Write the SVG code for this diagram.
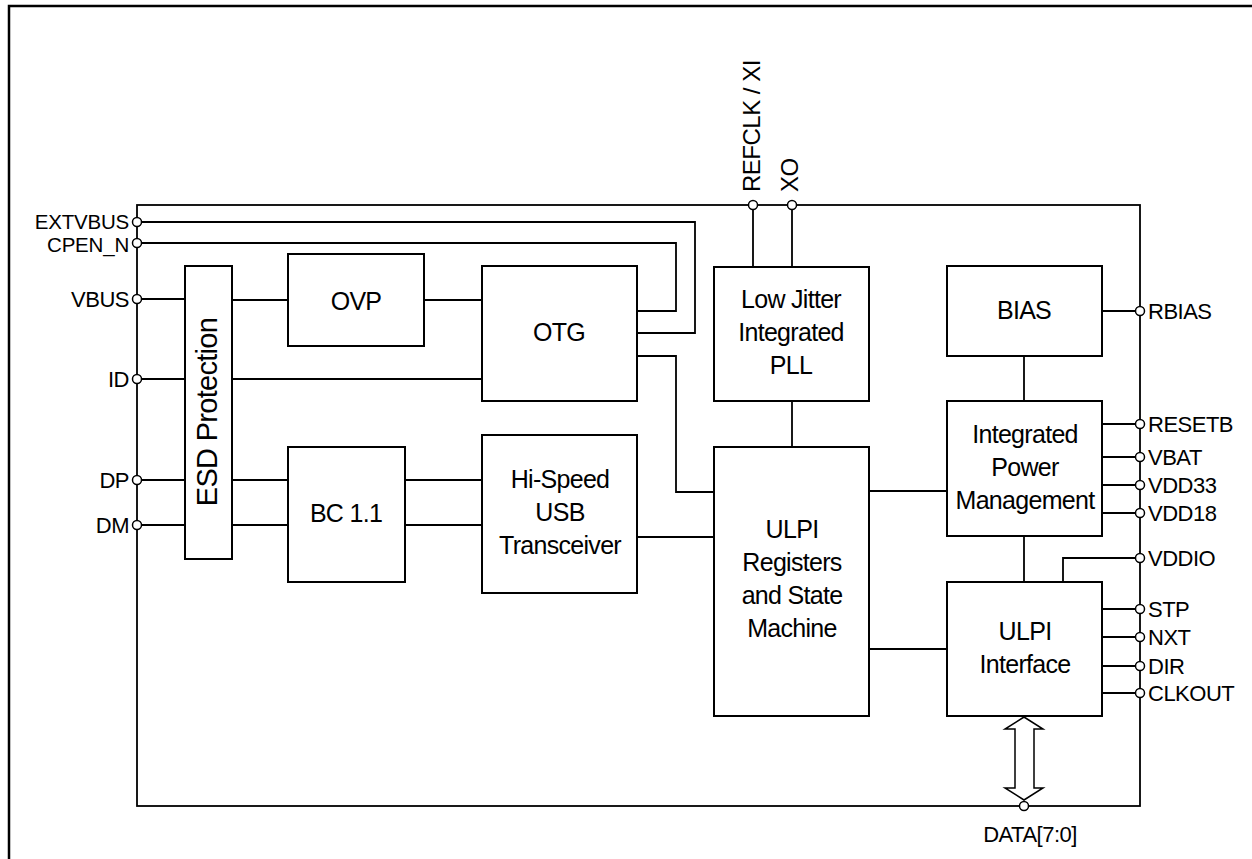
<svg xmlns="http://www.w3.org/2000/svg" width="1252" height="859" viewBox="0 0 1252 859">
<style>
.box{fill:#fff;stroke:#000;stroke-width:2}
.w{fill:none;stroke:#000;stroke-width:1.8}
.pin{fill:#fff;stroke:#000;stroke-width:1.5}
.bt{font-family:"Liberation Sans",Arial,sans-serif;font-size:25px;letter-spacing:-0.7px;text-anchor:middle;fill:#000}
.pl{font-family:"Liberation Sans",Arial,sans-serif;font-size:22px;letter-spacing:-0.5px;fill:#000}
.l{text-anchor:end}
.sm{font-size:20.5px;letter-spacing:-0.2px}
</style>
<rect width="1252" height="859" fill="#fff"/>
<path d="M9,859 V6 H1252" fill="none" stroke="#000" stroke-width="2.5"/>
<g id="chip">
<rect x="137" y="205" width="1003" height="601" fill="none" stroke="#000" stroke-width="1.8"/>
</g>
<g id="connectors">
<path class="w" d="M142,222 H695 V333 H637"/>
<path class="w" d="M142,243 H676 V311 H637"/>
<path class="w" d="M142,299 H185 M232,300 H288 M424,300 H482"/>
<path class="w" d="M142,379 H185 M232,379 H482"/>
<path class="w" d="M142,480 H185 M232,480 H288 M405,480 H482"/>
<path class="w" d="M142,525 H185 M232,525 H288 M405,525 H482"/>
<path class="w" d="M637,537 H714"/>
<path class="w" d="M637,356 H676 V492 H714"/>
<path class="w" d="M753,209 V267 M792,209 V267"/>
<path class="w" d="M792,401 V447"/>
<path class="w" d="M1024,356 V401"/>
<path class="w" d="M1024,536 V582"/>
<path class="w" d="M869,491 H947"/>
<path class="w" d="M869,649 H947"/>
<path class="w" d="M1102,311 H1135"/>
<path class="w" d="M1102,424 H1135 M1102,457 H1135 M1102,485 H1135 M1102,513 H1135"/>
<path class="w" d="M1063,582 V558 H1135"/>
<path class="w" d="M1102,609 H1135 M1102,637 H1135 M1102,666 H1135 M1102,693 H1135"/>
<path d="M1024,717 L1043,729 L1034,729 L1034,788 L1043,788 L1024,800 L1005,788 L1015,788 L1015,729 L1005,729 Z" fill="#fff" stroke="#000" stroke-width="1.5"/>
</g>
<g id="pins">
<circle class="pin" cx="137" cy="222" r="4.5"/>
<circle class="pin" cx="137" cy="243" r="4.5"/>
<circle class="pin" cx="137" cy="299" r="4.5"/>
<circle class="pin" cx="137" cy="379" r="4.5"/>
<circle class="pin" cx="137" cy="480" r="4.5"/>
<circle class="pin" cx="137" cy="525" r="4.5"/>
<circle class="pin" cx="753" cy="205" r="4.5"/>
<circle class="pin" cx="792" cy="205" r="4.5"/>
<circle class="pin" cx="1140" cy="311" r="4.5"/>
<circle class="pin" cx="1140" cy="424" r="4.5"/>
<circle class="pin" cx="1140" cy="457" r="4.5"/>
<circle class="pin" cx="1140" cy="485" r="4.5"/>
<circle class="pin" cx="1140" cy="513" r="4.5"/>
<circle class="pin" cx="1140" cy="558" r="4.5"/>
<circle class="pin" cx="1140" cy="609" r="4.5"/>
<circle class="pin" cx="1140" cy="637" r="4.5"/>
<circle class="pin" cx="1140" cy="666" r="4.5"/>
<circle class="pin" cx="1140" cy="693" r="4.5"/>
<circle class="pin" cx="1024" cy="806" r="4.5"/>
<text class="pl l sm" x="129" y="229">EXTVBUS</text>
<text class="pl l sm" x="129" y="252">CPEN_N</text>
<text class="pl l" x="129" y="307">VBUS</text>
<text class="pl l" x="129" y="387">ID</text>
<text class="pl l" x="129" y="488">DP</text>
<text class="pl l" x="129" y="533">DM</text>
<text class="pl" style="font-size:24px" transform="translate(760,192) rotate(-90)">REFCLK / XI</text>
<text class="pl" style="font-size:24px" transform="translate(798,192) rotate(-90)">XO</text>
<text class="pl" x="1148" y="319">RBIAS</text>
<text class="pl" x="1148" y="432">RESETB</text>
<text class="pl" x="1148" y="465">VBAT</text>
<text class="pl" x="1148" y="493">VDD33</text>
<text class="pl" x="1148" y="521">VDD18</text>
<text class="pl" x="1148" y="566">VDDIO</text>
<text class="pl" x="1148" y="617">STP</text>
<text class="pl" x="1148" y="645">NXT</text>
<text class="pl" x="1148" y="674">DIR</text>
<text class="pl" x="1148" y="701">CLKOUT</text>
<text class="pl" x="1030" y="842" style="text-anchor:middle">DATA[7:0]</text>
</g>
<g id="esd">
<rect class="box" x="185" y="266" width="47" height="293"/>
<text class="bt" style="font-size:29px" transform="translate(217,412) rotate(-90)">ESD Protection</text>
</g>
<g id="ovp">
<rect class="box" x="288" y="254" width="136" height="92"/>
<text class="bt" x="356" y="310">OVP</text>
</g>
<g id="otg">
<rect class="box" x="482" y="266" width="155" height="135"/>
<text class="bt" x="559" y="341">OTG</text>
</g>
<g id="pll">
<rect class="box" x="714" y="267" width="155" height="134"/>
<text class="bt" x="791" y="308">Low Jitter</text>
<text class="bt" x="791" y="341">Integrated</text>
<text class="bt" x="791" y="374">PLL</text>
</g>
<g id="bias">
<rect class="box" x="947" y="266" width="155" height="90"/>
<text class="bt" x="1024" y="319">BIAS</text>
</g>
<g id="ipm">
<rect class="box" x="947" y="401" width="155" height="135"/>
<text class="bt" x="1025" y="443">Integrated</text>
<text class="bt" x="1025" y="476">Power</text>
<text class="bt" x="1025" y="509">Management</text>
</g>
<g id="bc">
<rect class="box" x="288" y="447" width="117" height="135"/>
<text class="bt" x="346" y="522">BC 1.1</text>
</g>
<g id="hs">
<rect class="box" x="482" y="435" width="155" height="158"/>
<text class="bt" x="560" y="488">Hi-Speed</text>
<text class="bt" x="560" y="521">USB</text>
<text class="bt" x="560" y="554">Transceiver</text>
</g>
<g id="regs">
<rect class="box" x="714" y="447" width="155" height="269"/>
<text class="bt" x="792" y="538">ULPI</text>
<text class="bt" x="792" y="571">Registers</text>
<text class="bt" x="792" y="604">and State</text>
<text class="bt" x="792" y="637">Machine</text>
</g>
<g id="ulpi">
<rect class="box" x="947" y="582" width="155" height="134"/>
<text class="bt" x="1025" y="640">ULPI</text>
<text class="bt" x="1025" y="673">Interface</text>
</g>
</svg>
